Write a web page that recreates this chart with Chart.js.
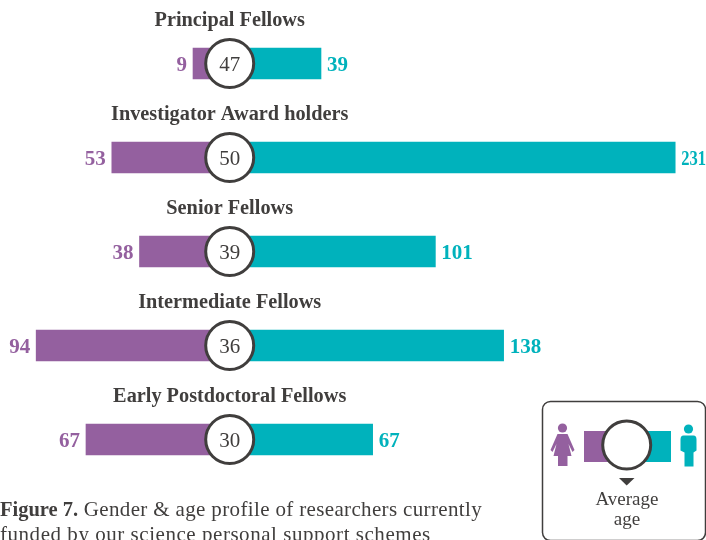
<!DOCTYPE html>
<html><head><meta charset="utf-8">
<script src="https://cdn.jsdelivr.net/npm/chart.js@4"></script>
<style>html,body{margin:0;padding:0;background:#fff;overflow:hidden}canvas{display:block}</style>
</head><body><canvas id="c" width="706" height="540"></canvas>
<script>
const categories = ["Principal Fellows","Investigator Award holders","Senior Fellows","Intermediate Fellows","Early Postdoctoral Fellows"];
const women = [9,53,38,94,67];
const men = [39,231,101,138,67];
const averageAge = [47,50,39,36,30];
const captionBold = "Figure 7.";
const captionLine1 = " Gender & age profile of researchers currently";
const captionLine2 = "funded by our science personal support schemes";
const legendLines = ["Average","age"];

const PURPLE="#94609f", TEAL="#00b2bc", INK="#403e3d";
const SERIF='"Liberation Serif"';

function womanIcon(ctx,x,y){
  ctx.fillStyle=PURPLE;
  ctx.beginPath();ctx.arc(x,y-17,4.6,0,Math.PI*2);ctx.fill();
  ctx.beginPath();
  ctx.moveTo(x-5,y-11);ctx.lineTo(x+5,y-11);ctx.lineTo(x+12,y+5);ctx.lineTo(x+10,y+7);ctx.lineTo(x+6,y-1);
  ctx.lineTo(x+9,y+11);ctx.lineTo(x+5,y+11);ctx.lineTo(x+5,y+21);ctx.lineTo(x-4.5,y+21);ctx.lineTo(x-4.5,y+11);
  ctx.lineTo(x-9,y+11);ctx.lineTo(x-6,y-1);ctx.lineTo(x-10,y+7);ctx.lineTo(x-12,y+5);ctx.closePath();ctx.fill();
}
function manIcon(ctx,x,y){
  ctx.fillStyle=TEAL;
  ctx.beginPath();ctx.arc(x,y-16.5,4.6,0,Math.PI*2);ctx.fill();
  ctx.beginPath();
  ctx.moveTo(x-5,y-10);ctx.lineTo(x+5,y-10);ctx.quadraticCurveTo(x+8,y-10,x+8,y-6);ctx.lineTo(x+8,y+5);
  ctx.lineTo(x+5,y+7);ctx.lineTo(x+5,y+21);ctx.lineTo(x-4,y+21);ctx.lineTo(x-4,y+7);ctx.lineTo(x-8,y+5);
  ctx.lineTo(x-8,y-6);ctx.quadraticCurveTo(x-8,y-10,x-5,y-10);ctx.closePath();ctx.fill();
}

const annotate={id:"annotate",afterDraw(chart){
  const ctx=chart.ctx;ctx.save();
  const yS=chart.scales.y;
  ctx.textBaseline="alphabetic";
  const wm=chart.getDatasetMeta(0).data, mm=chart.getDatasetMeta(1).data, am=chart.getDatasetMeta(2).data;
  categories.forEach((name,i)=>{
    const cy=yS.getPixelForValue(i);
    ctx.fillStyle=INK;ctx.font='bold 20.3px '+SERIF;ctx.textAlign="center";
    ctx.fillText(name,am[i].x,cy-37.5);
    ctx.font='21px '+SERIF;
    ctx.fillText(String(averageAge[i]),am[i].x,cy+7);
    ctx.font='bold 21px '+SERIF;
    ctx.fillStyle=PURPLE;ctx.textAlign="right";
    ctx.fillText(String(women[i]),wm[i].x-6,cy+7);
    ctx.fillStyle=TEAL;ctx.textAlign="left";
    const lx=mm[i].x+6;
    ctx.fillText(String(men[i]),lx,cy+7,chart.width-lx);
  });
  // caption
  ctx.textAlign="left";ctx.fillStyle=INK;
  ctx.font='bold 20.5px '+SERIF;ctx.fillText(captionBold,0,516);
  const w=ctx.measureText(captionBold).width;
  ctx.font='21px '+SERIF;ctx.letterSpacing="0.35px";
  ctx.fillText(captionLine1,w,516);
  ctx.letterSpacing="0.54px";
  ctx.fillText(captionLine2,0,541);
  ctx.letterSpacing="0px";
  // legend box
  ctx.strokeStyle=INK;ctx.lineWidth=1.5;
  ctx.beginPath();ctx.roundRect(542.5,401.5,163,139,8);ctx.stroke();
  womanIcon(ctx,562.5,445);manIcon(ctx,688.5,445.5);
  ctx.fillStyle=PURPLE;ctx.fillRect(584,431,43,31);
  ctx.fillStyle=TEAL;ctx.fillRect(627,431,44,31);
  ctx.fillStyle="#fff";ctx.strokeStyle=INK;ctx.lineWidth=3;
  ctx.beginPath();ctx.arc(626.7,445,24,0,Math.PI*2);ctx.fill();ctx.stroke();
  ctx.fillStyle=INK;ctx.beginPath();ctx.moveTo(619,478);ctx.lineTo(634.5,478);ctx.lineTo(626.7,485.5);ctx.closePath();ctx.fill();
  ctx.textAlign="center";ctx.font='19px '+SERIF;
  ctx.fillText(legendLines[0],627,505);ctx.fillText(legendLines[1],627,525);
  ctx.restore();
}};

new Chart(document.getElementById("c"),{
  type:"bar",
  data:{labels:categories,datasets:[
    {label:"Women",indexAxis:"y",data:women,backgroundColor:PURPLE,xAxisID:"xWomen",yAxisID:"y",barThickness:31,grouped:false,order:2},
    {label:"Men",indexAxis:"y",data:men,backgroundColor:TEAL,xAxisID:"xMen",yAxisID:"y",barThickness:31,grouped:false,order:2},
    {label:"Average age",type:"scatter",data:averageAge.map((a,i)=>({x:0,y:categories[i]})),xAxisID:"xAge",yAxisID:"y",
      pointRadius:24,pointHoverRadius:24,pointBackgroundColor:"#fff",pointBorderColor:INK,pointBorderWidth:3,order:0,clip:false}
  ]},
  options:{
    indexAxis:"y",responsive:false,animation:false,
    layout:{autoPadding:false,padding:{top:16.5,bottom:53.5,left:0,right:0}},
    plugins:{legend:{display:false},tooltip:{enabled:false}},
    scales:{
      y:{type:"category",offset:true,display:false},
      xWomen:{type:"linear",reverse:true,min:-269,max:113.6,display:false},
      xMen:{type:"linear",min:-135,max:247.7,display:false},
      xAge:{type:"linear",min:-229.7,max:476.3,display:false}
    }
  },
  plugins:[annotate]
});
</script></body></html>
